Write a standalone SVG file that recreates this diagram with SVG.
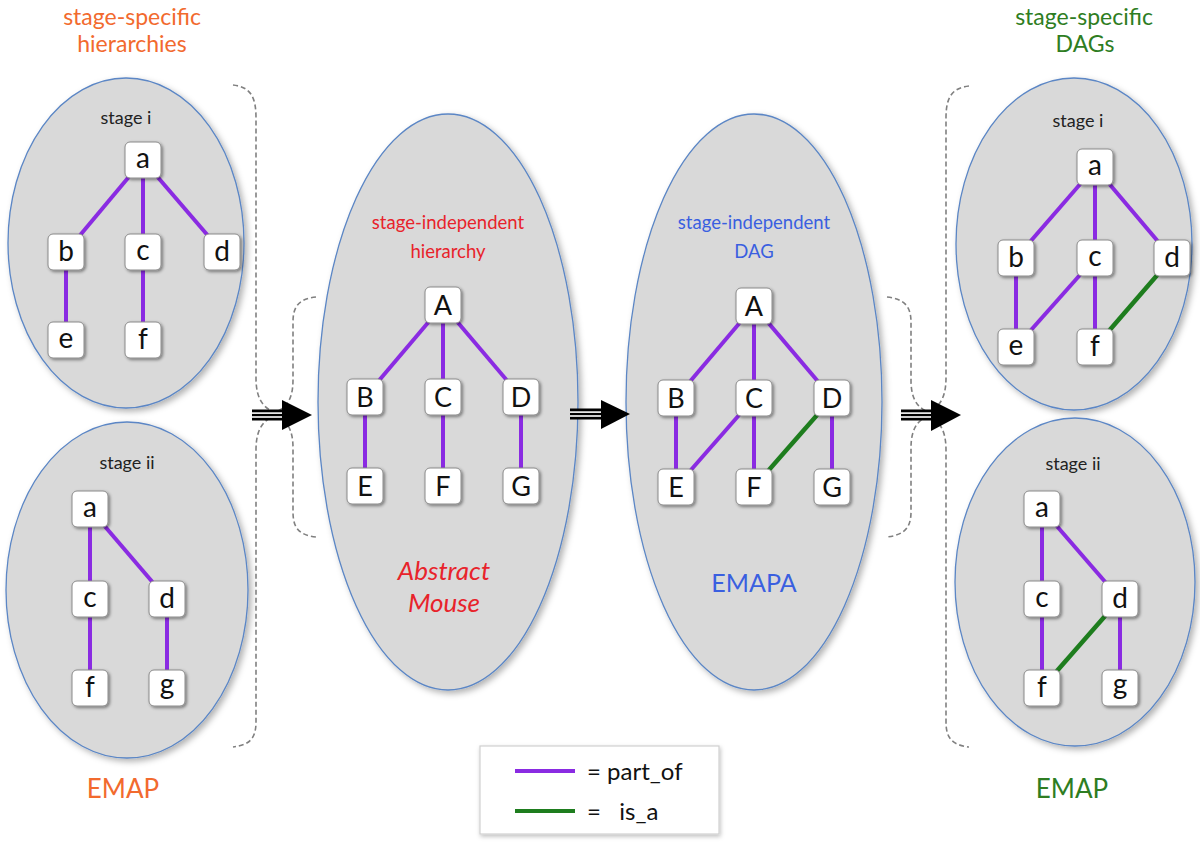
<svg xmlns="http://www.w3.org/2000/svg" width="1200" height="844" viewBox="0 0 1200 844">
<defs>
<filter id="esh" x="-10%" y="-10%" width="125%" height="125%"><feDropShadow dx="3" dy="3" stdDeviation="3" flood-color="#000" flood-opacity="0.3"/></filter>
<filter id="bsh" x="-30%" y="-30%" width="170%" height="170%"><feDropShadow dx="1.5" dy="1.5" stdDeviation="1.5" flood-color="#000" flood-opacity="0.45"/></filter>
<filter id="lsh" x="-10%" y="-10%" width="120%" height="130%"><feDropShadow dx="1" dy="2" stdDeviation="2" flood-color="#000" flood-opacity="0.25"/></filter>
</defs>
<style>
.ell{fill:#d9d9d9;stroke:#5b86c5;stroke-width:1.3;filter:url(#esh)}
.box{fill:#fff;stroke:#8a8a8a;stroke-width:1;filter:url(#bsh)}
.nl{font-family:Lato,"Liberation Sans",sans-serif;font-size:28px;fill:#111;text-anchor:middle}
.nu{font-family:Lato,"Liberation Sans",sans-serif;font-size:27px;fill:#111;text-anchor:middle}
.po{stroke:#8a2be2;stroke-width:4;fill:none}
.isa{stroke:#1e7d1e;stroke-width:4.5;fill:none}
.brace{fill:none;stroke:#808080;stroke-width:1.6;stroke-dasharray:5 3}
.t{font-family:Lato,"Liberation Sans",sans-serif;text-anchor:middle}
.st{font-family:Lato,"Liberation Sans",sans-serif;font-size:18px;fill:#222;text-anchor:middle}
</style>
<rect width="1200" height="844" fill="#fff"/>

<g id="headers">
<text class="t" x="132" y="25" font-size="23" fill="#f26a2e">stage-specific</text>
<text class="t" x="132" y="52" font-size="23" fill="#f26a2e">hierarchies</text>
<text class="t" x="1084" y="25" font-size="23" fill="#2e7d22">stage-specific</text>
<text class="t" x="1085" y="52" font-size="23" fill="#2e7d22">DAGs</text>
<text class="t" x="123" y="798" font-size="26" fill="#f26a2e">EMAP</text>
<text class="t" x="1072" y="798" font-size="26" fill="#2e7d22">EMAP</text>
</g>

<g id="ellipses">
<ellipse id="ell-lt" class="ell" cx="126" cy="243" rx="118" ry="165"/>
<ellipse id="ell-lb" class="ell" cx="127" cy="590" rx="121" ry="168"/>
<ellipse id="ell-am" class="ell" cx="448" cy="402" rx="130" ry="288"/>
<ellipse id="ell-ea" class="ell" cx="754" cy="402" rx="128" ry="288"/>
<ellipse id="ell-rt" class="ell" cx="1074" cy="244" rx="118" ry="166"/>
<ellipse id="ell-rb" class="ell" cx="1075" cy="582" rx="120" ry="164"/>
</g>

<g id="labels">
<text class="st" x="126" y="124">stage i</text>
<text class="st" x="127" y="469">stage ii</text>
<text class="st" x="1078" y="127">stage i</text>
<text class="st" x="1073" y="470">stage ii</text>
<text class="t" x="448" y="229" font-size="18.5" fill="#e8232b">stage-independent</text>
<text class="t" x="448" y="258" font-size="18.5" fill="#e8232b">hierarchy</text>
<text class="t" x="444" y="580" font-size="26" font-style="italic" fill="#e8232b">Abstract</text>
<text class="t" x="444" y="612" font-size="26" font-style="italic" fill="#e8232b">Mouse</text>
<text class="t" x="754" y="229" font-size="18.5" fill="#3a5fe0">stage-independent</text>
<text class="t" x="754" y="258" font-size="18.5" fill="#3a5fe0">DAG</text>
<text class="t" x="754" y="592" font-size="25" fill="#3a5fe0">EMAPA</text>
</g>

<g id="connectors">
<!-- left top -->
<line class="po" x1="143" y1="160" x2="66" y2="252"/>
<line class="po" x1="143" y1="160" x2="143" y2="252"/>
<line class="po" x1="143" y1="160" x2="222" y2="252"/>
<line class="po" x1="66" y1="252" x2="66" y2="340"/>
<line class="po" x1="143" y1="252" x2="143" y2="340"/>
<!-- left bottom -->
<line class="po" x1="90" y1="509" x2="90" y2="599"/>
<line class="po" x1="90" y1="509" x2="167" y2="599"/>
<line class="po" x1="90" y1="599" x2="90" y2="688"/>
<line class="po" x1="167" y1="599" x2="167" y2="688"/>
<!-- abstract mouse -->
<line class="po" x1="443" y1="305" x2="365" y2="397"/>
<line class="po" x1="443" y1="305" x2="443" y2="397"/>
<line class="po" x1="443" y1="305" x2="521" y2="397"/>
<line class="po" x1="365" y1="397" x2="365" y2="486"/>
<line class="po" x1="443" y1="397" x2="443" y2="486"/>
<line class="po" x1="521" y1="397" x2="521" y2="486"/>
<!-- EMAPA -->
<line class="po" x1="754" y1="306" x2="676" y2="398"/>
<line class="po" x1="754" y1="306" x2="754" y2="398"/>
<line class="po" x1="754" y1="306" x2="832" y2="398"/>
<line class="po" x1="676" y1="398" x2="676" y2="487"/>
<line class="po" x1="754" y1="398" x2="676" y2="487"/>
<line class="po" x1="754" y1="398" x2="754" y2="487"/>
<line class="isa" x1="832" y1="398" x2="754" y2="487"/>
<line class="po" x1="832" y1="398" x2="832" y2="487"/>
<!-- right top -->
<line class="po" x1="1095" y1="167" x2="1016" y2="258"/>
<line class="po" x1="1095" y1="167" x2="1095" y2="258"/>
<line class="po" x1="1095" y1="167" x2="1172" y2="258"/>
<line class="po" x1="1016" y1="258" x2="1016" y2="347"/>
<line class="po" x1="1095" y1="258" x2="1016" y2="347"/>
<line class="po" x1="1095" y1="258" x2="1095" y2="347"/>
<line class="isa" x1="1172" y1="258" x2="1095" y2="347"/>
<!-- right bottom -->
<line class="po" x1="1042" y1="509" x2="1042" y2="599"/>
<line class="po" x1="1042" y1="509" x2="1120" y2="599"/>
<line class="po" x1="1042" y1="599" x2="1042" y2="688"/>
<line class="isa" x1="1120" y1="599" x2="1042" y2="688"/>
<line class="po" x1="1120" y1="599" x2="1120" y2="688"/>
<!-- braces -->
<path class="brace" d="M233,85 C250,87 256,96 256,118 L256,378 C256,400 264,411 282,414 C264,417 256,428 256,450 L256,722 C256,738 250,745 233,747"/>
<path class="brace" d="M316,297 C299,299 293,306 293,322 L293,380 C293,400 286,411 268,414 C286,417 293,428 293,448 L293,512 C293,528 299,535 316,537"/>
<path class="brace" d="M887,297 C904,299 911,306 911,322 L911,380 C911,400 918,411 936,414 C918,417 911,428 911,448 L911,512 C911,528 904,535 887,537"/>
<path class="brace" d="M969,86 C952,88 946,97 946,118 L946,378 C946,400 938,411 920,414 C938,417 946,428 946,450 L946,722 C946,738 952,745 969,747"/>
<!-- arrows -->
<g id="arrow1">
<rect x="252" y="409.5" width="33" height="11" fill="#000"/>
<rect x="252" y="412.3" width="31" height="1.6" fill="#fff"/>
<rect x="252" y="416.2" width="31" height="1.6" fill="#fff"/>
<polygon points="282,400 312,415 282,430" fill="#000"/>
</g>
<g id="arrow2">
<rect x="570" y="408.5" width="33" height="11" fill="#000"/>
<rect x="570" y="411.3" width="31" height="1.6" fill="#fff"/>
<rect x="570" y="415.2" width="31" height="1.6" fill="#fff"/>
<polygon points="601,400 630,414 601,429" fill="#000"/>
</g>
<g id="arrow3">
<rect x="901" y="409.5" width="33" height="11" fill="#000"/>
<rect x="901" y="412.3" width="31" height="1.6" fill="#fff"/>
<rect x="901" y="416.2" width="31" height="1.6" fill="#fff"/>
<polygon points="931,400 961,415 931,431" fill="#000"/>
</g>
</g>

<!-- nodes: left top -->
<g id="lt-a"><rect class="box" x="125" y="142" width="36" height="36" rx="5"/><text class="nl" x="143" y="168">a</text></g>
<g id="lt-b"><rect class="box" x="48" y="234" width="36" height="36" rx="5"/><text class="nl" x="66" y="261">b</text></g>
<g id="lt-c"><rect class="box" x="125" y="234" width="36" height="36" rx="5"/><text class="nl" x="143" y="260">c</text></g>
<g id="lt-d"><rect class="box" x="204" y="234" width="36" height="36" rx="5"/><text class="nl" x="222" y="261">d</text></g>
<g id="lt-e"><rect class="box" x="48" y="322" width="36" height="36" rx="5"/><text class="nl" x="66" y="348">e</text></g>
<g id="lt-f"><rect class="box" x="125" y="322" width="36" height="36" rx="5"/><text class="nl" x="143" y="349">f</text></g>
<!-- left bottom -->
<g id="lb-a"><rect class="box" x="72" y="491" width="36" height="36" rx="5"/><text class="nl" x="90" y="517">a</text></g>
<g id="lb-c"><rect class="box" x="72" y="581" width="36" height="36" rx="5"/><text class="nl" x="90" y="607">c</text></g>
<g id="lb-d"><rect class="box" x="149" y="581" width="36" height="36" rx="5"/><text class="nl" x="167" y="608">d</text></g>
<g id="lb-f"><rect class="box" x="72" y="670" width="36" height="36" rx="5"/><text class="nl" x="90" y="697">f</text></g>
<g id="lb-g"><rect class="box" x="149" y="670" width="36" height="36" rx="5"/><text class="nl" x="167" y="694">g</text></g>
<!-- abstract mouse -->
<g id="am-A"><rect class="box" x="425" y="287" width="36" height="36" rx="5"/><text class="nu" x="443" y="315">A</text></g>
<g id="am-B"><rect class="box" x="347" y="379" width="36" height="36" rx="5"/><text class="nu" x="365" y="407">B</text></g>
<g id="am-C"><rect class="box" x="425" y="379" width="36" height="36" rx="5"/><text class="nu" x="443" y="407">C</text></g>
<g id="am-D"><rect class="box" x="503" y="379" width="36" height="36" rx="5"/><text class="nu" x="521" y="407">D</text></g>
<g id="am-E"><rect class="box" x="347" y="468" width="36" height="36" rx="5"/><text class="nu" x="365" y="496">E</text></g>
<g id="am-F"><rect class="box" x="425" y="468" width="36" height="36" rx="5"/><text class="nu" x="443" y="496">F</text></g>
<g id="am-G"><rect class="box" x="503" y="468" width="36" height="36" rx="5"/><text class="nu" x="521" y="496">G</text></g>
<!-- EMAPA -->
<g id="ea-A"><rect class="box" x="736" y="288" width="36" height="36" rx="5"/><text class="nu" x="754" y="316">A</text></g>
<g id="ea-B"><rect class="box" x="658" y="380" width="36" height="36" rx="5"/><text class="nu" x="676" y="408">B</text></g>
<g id="ea-C"><rect class="box" x="736" y="380" width="36" height="36" rx="5"/><text class="nu" x="754" y="408">C</text></g>
<g id="ea-D"><rect class="box" x="814" y="380" width="36" height="36" rx="5"/><text class="nu" x="832" y="408">D</text></g>
<g id="ea-E"><rect class="box" x="658" y="469" width="36" height="36" rx="5"/><text class="nu" x="676" y="497">E</text></g>
<g id="ea-F"><rect class="box" x="736" y="469" width="36" height="36" rx="5"/><text class="nu" x="754" y="497">F</text></g>
<g id="ea-G"><rect class="box" x="814" y="469" width="36" height="36" rx="5"/><text class="nu" x="832" y="497">G</text></g>
<!-- right top -->
<g id="rt-a"><rect class="box" x="1077" y="149" width="36" height="36" rx="5"/><text class="nl" x="1095" y="175">a</text></g>
<g id="rt-b"><rect class="box" x="998" y="240" width="36" height="36" rx="5"/><text class="nl" x="1016" y="267">b</text></g>
<g id="rt-c"><rect class="box" x="1077" y="240" width="36" height="36" rx="5"/><text class="nl" x="1095" y="266">c</text></g>
<g id="rt-d"><rect class="box" x="1154" y="240" width="36" height="36" rx="5"/><text class="nl" x="1172" y="267">d</text></g>
<g id="rt-e"><rect class="box" x="998" y="329" width="36" height="36" rx="5"/><text class="nl" x="1016" y="355">e</text></g>
<g id="rt-f"><rect class="box" x="1077" y="329" width="36" height="36" rx="5"/><text class="nl" x="1095" y="356">f</text></g>
<!-- right bottom -->
<g id="rb-a"><rect class="box" x="1024" y="491" width="36" height="36" rx="5"/><text class="nl" x="1042" y="517">a</text></g>
<g id="rb-c"><rect class="box" x="1024" y="581" width="36" height="36" rx="5"/><text class="nl" x="1042" y="607">c</text></g>
<g id="rb-d"><rect class="box" x="1102" y="581" width="36" height="36" rx="5"/><text class="nl" x="1120" y="608">d</text></g>
<g id="rb-f"><rect class="box" x="1024" y="670" width="36" height="36" rx="5"/><text class="nl" x="1042" y="697">f</text></g>
<g id="rb-g"><rect class="box" x="1102" y="670" width="36" height="36" rx="5"/><text class="nl" x="1120" y="694">g</text></g>

<g id="legend">
<rect x="480" y="746" width="239" height="88" fill="#fff" stroke="#d0d0d0" stroke-width="1.2" filter="url(#lsh)"/>
<line x1="515" y1="771" x2="575" y2="771" stroke="#8a2be2" stroke-width="4"/>
<line x1="515" y1="811" x2="575" y2="811" stroke="#1e7d1e" stroke-width="4"/>
<text x="587" y="780" font-family="Lato,'Liberation Sans',sans-serif" font-size="24" fill="#111">= part_of</text>
<text x="587" y="820" font-family="Lato,'Liberation Sans',sans-serif" font-size="24" fill="#111" xml:space="preserve">=   is_a</text>
</g>
</svg>
